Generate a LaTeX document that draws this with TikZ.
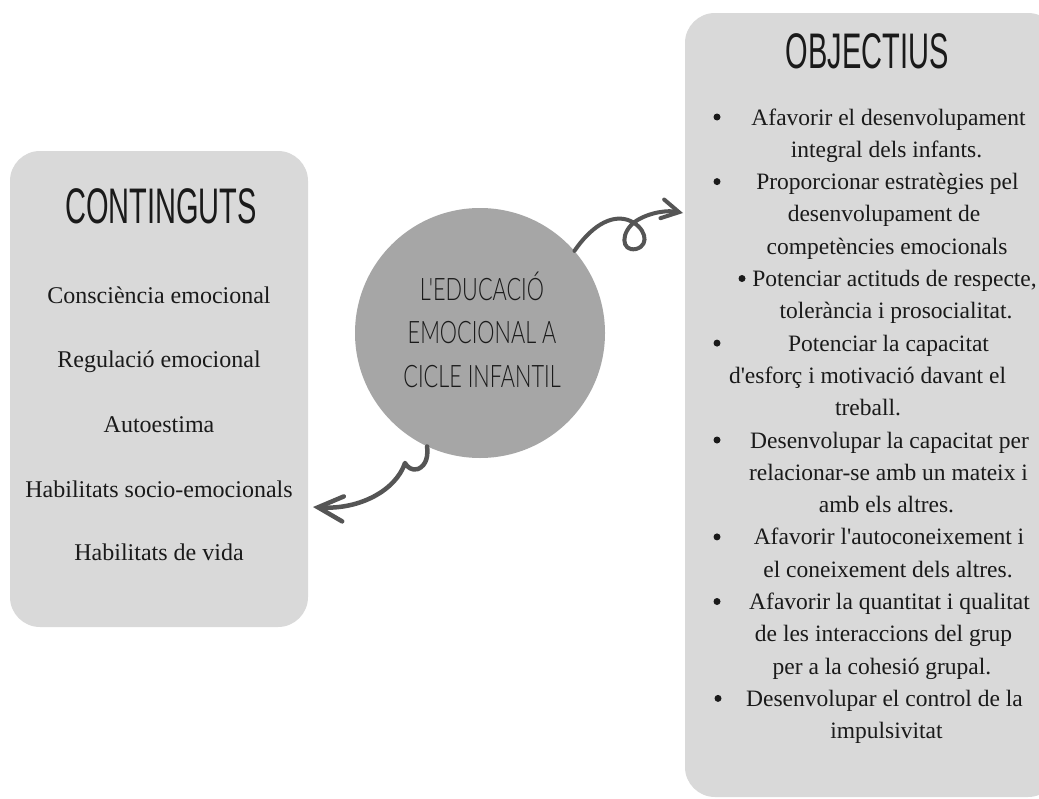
\documentclass[tikz,border=0pt]{standalone}
\usepackage{fontspec}
\setmainfont{Liberation Serif}
\newfontfamily\titlefont[FakeStretch=0.58]{Liberation Sans}
\newfontfamily\circfont[FakeStretch=0.7, UprightFont=* Light]{Lato}
\usetikzlibrary{arrows.meta}
\definecolor{boxgray}{HTML}{D9D9D9}
\definecolor{circgray}{HTML}{A6A6A6}
\definecolor{arrgray}{HTML}{555555}
\definecolor{ink}{HTML}{1A1A1A}
\begin{document}
\begin{tikzpicture}[x=1pt,y=-1pt,
  panel/.style={fill=boxgray, rounded corners=30pt, inner sep=0pt},
  hub/.style={circle, fill=circgray, minimum size=250pt, inner sep=0pt},
  ttl/.style={anchor=base, inner sep=0pt, text=ink, font=\titlefont\fontsize{50}{60}\selectfont},
  ctx/.style={anchor=base, inner sep=0pt, text=ink, font=\circfont\fontsize{31}{40}\selectfont},
  lt/.style={anchor=base, inner sep=0pt, text=ink, font=\fontsize{24}{30}\selectfont},
  rt/.style={anchor=base, inner sep=0pt, text=ink, font=\fontsize{23.5}{30}\selectfont},
  dot/.style={circle, fill=ink, minimum size=7pt, inner sep=0pt},
  arr/.style={draw=arrgray, line width=4pt, line cap=round, line join=round},
]
\useasboundingbox (0,0) rectangle (1039,798);
\clip (0,0) rectangle (1039,798);
\fill[white] (0,0) rectangle (1039,798);

% panels
\node[panel, minimum width=298pt, minimum height=476pt] (L) at (159,389) {};
\node[panel, minimum width=373pt, minimum height=784pt] (R) at (871.5,405) {};
\node[hub] (c) at (480,333) {};

% titles
\node[ttl] (tL) at (161,223) {CONTINGUTS};
\node[ttl] (tR) at (867,68) {OBJECTIUS};

% circle text
\node[ctx] (c1) at (482,300) {L'EDUCACIÓ};
\node[ctx] (c2) at (482,343) {EMOCIONAL A};
\node[ctx] (c3) at (482,387) {CICLE INFANTIL};

% left items
\node[lt] (l1) at (159,303) {Consciència emocional};
\node[lt] (l2) at (159,367) {Regulació emocional};
\node[lt] (l3) at (159,432) {Autoestima};
\node[lt] (l4) at (159,497) {Habilitats socio-emocionals};
\node[lt] (l5) at (159,560) {Habilitats de vida};

% right items
\node[rt] (r1) at (888.5,125.0) {Afavorir el desenvolupament};
\node[rt] (r2) at (886.5,157.3) {integral dels infants.};
\node[rt] (r3) at (887.5,189.6) {Proporcionar estratègies pel};
\node[rt] (r4) at (884.0,221.9) {desenvolupament de};
\node[rt] (r5) at (887.0,254.2) {competències emocionals};
\node[rt] (r6) at (894.5,286.5) {Potenciar actituds de respecte,};
\node[rt] (r7) at (896.0,318.8) {tolerància i prosocialitat.};
\node[rt] (r8) at (888.5,351.1) {Potenciar la capacitat};
\node[rt] (r9) at (867.5,383.4) {d\textquotesingle esforç i motivació davant el};
\node[rt] (r10) at (868.0,415.7) {treball.};
\node[rt] (r11) at (889.5,448.0) {Desenvolupar la capacitat per};
\node[rt] (r12) at (888.5,480.3) {relacionar-se amb un mateix i};
\node[rt] (r13) at (886.5,512.6) {amb els altres.};
\node[rt] (r14) at (889.0,544.9) {Afavorir l\textquotesingle autoconeixement i};
\node[rt] (r15) at (888.0,577.2) {el coneixement dels altres.};
\node[rt] (r16) at (889.5,609.5) {Afavorir la quantitat i qualitat};
\node[rt] (r17) at (883.5,641.8) {de les interaccions del grup};
\node[rt] (r18) at (882.0,674.1) {per a la cohesió grupal.};
\node[rt] (r19) at (884.5,706.4) {Desenvolupar el control de la};
\node[rt] (r20) at (886.5,738.7) {impulsivitat};

% bullets
\node[dot] (b1) at (717,117.0) {};
\node[dot] (b2) at (717,181.6) {};
\node[dot] (b3) at (742,278.5) {};
\node[dot] (b4) at (717,343.1) {};
\node[dot] (b5) at (717,440.0) {};
\node[dot] (b6) at (717,536.9) {};
\node[dot] (b7) at (717,601.5) {};
\node[dot] (b8) at (718,698.4) {};

% connectors
\coordinate (t1) at (683,213);
\coordinate (t2) at (313,507);
\draw[arr, -{Straight Barb[length=17pt, width=19pt, line cap=round]}]
  (c.41) .. controls (590,228) and (610,214) .. (628,220)
  .. controls (645,226) and (651,245) .. (636,249)
  .. controls (621,252) and (620,232) .. (636,221)
  .. controls (650,212) and (668,210) .. (t1);
\draw[arr, line width=4.5pt, -{Straight Barb[length=25pt, width=25pt, line cap=round]}]
  (c.245) .. controls (428,455) and (427,465) .. (418,469)
  .. controls (412,471) and (407,467) .. (405,463)
  .. controls (396,490) and (360,510) .. (t2);
\end{tikzpicture}
\end{document}
